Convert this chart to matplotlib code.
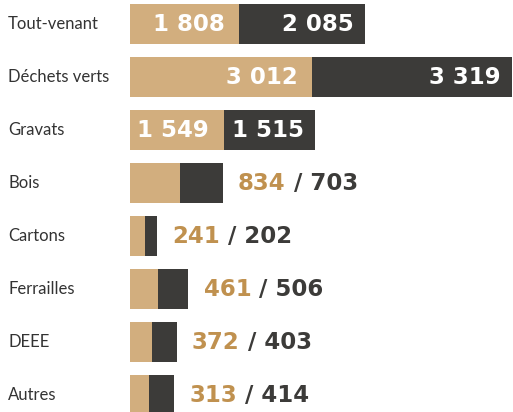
import matplotlib.pyplot as plt
from matplotlib.transforms import blended_transform_factory

# Data
categories = ["Tout-venant", "Déchets verts", "Gravats", "Bois", "Cartons",
              "Ferrailles", "DEEE", "Autres"]
tan_values = [1808, 3012, 1549, 834, 241, 461, 372, 313]
dark_values = [2085, 3319, 1515, 703, 202, 506, 403, 414]
inside = [True, True, True, False, False, False, False, False]

TAN = "#D2AE7E"
DARK = "#3C3B39"
TAN_TEXT = "#C0914F"

def fmt(v):
    return f"{v:,}".replace(",", " ")

fig = plt.figure(figsize=(5.13, 4.12), dpi=100)
ax = fig.add_axes([130 / 513, 0, 383 / 513, 1])
ax.set_xlim(0, 6340)
ax.set_ylim(7.32, -0.453)
ax.axis("off")

y = list(range(len(categories)))
h = 0.74
ax.barh(y, tan_values, height=h, color=TAN, linewidth=0)
ax.barh(y, dark_values, left=tan_values, height=h, color=DARK, linewidth=0)

num_font = dict(family=["DejaVu Sans"], fontweight="bold", fontsize=16.5)
lab_t = blended_transform_factory(fig.transFigure, ax.transData)

for i, cat in enumerate(categories):
    ax.text(8 / 513, i, cat, transform=lab_t, ha="left", va="center",
            fontsize=12, family=["Lato", "DejaVu Sans"], fontweight="normal",
            color="#333333")
    t, d = tan_values[i], dark_values[i]
    if inside[i]:
        ax.text(t - 240, i, fmt(t), ha="right", va="center", color="white", **num_font)
        ax.text(t + d - 190, i, fmt(d), ha="right", va="center", color="white", **num_font)
    else:
        txt = ax.text(t + d + 250, i, fmt(t), ha="left", va="center",
                      color=TAN_TEXT, **num_font)
        ax.annotate(f" / {fmt(d)}", xycoords=txt, xy=(1, 0.5), va="center",
                    ha="left", color=DARK, **num_font)

fig.savefig("out.png", dpi=100)
